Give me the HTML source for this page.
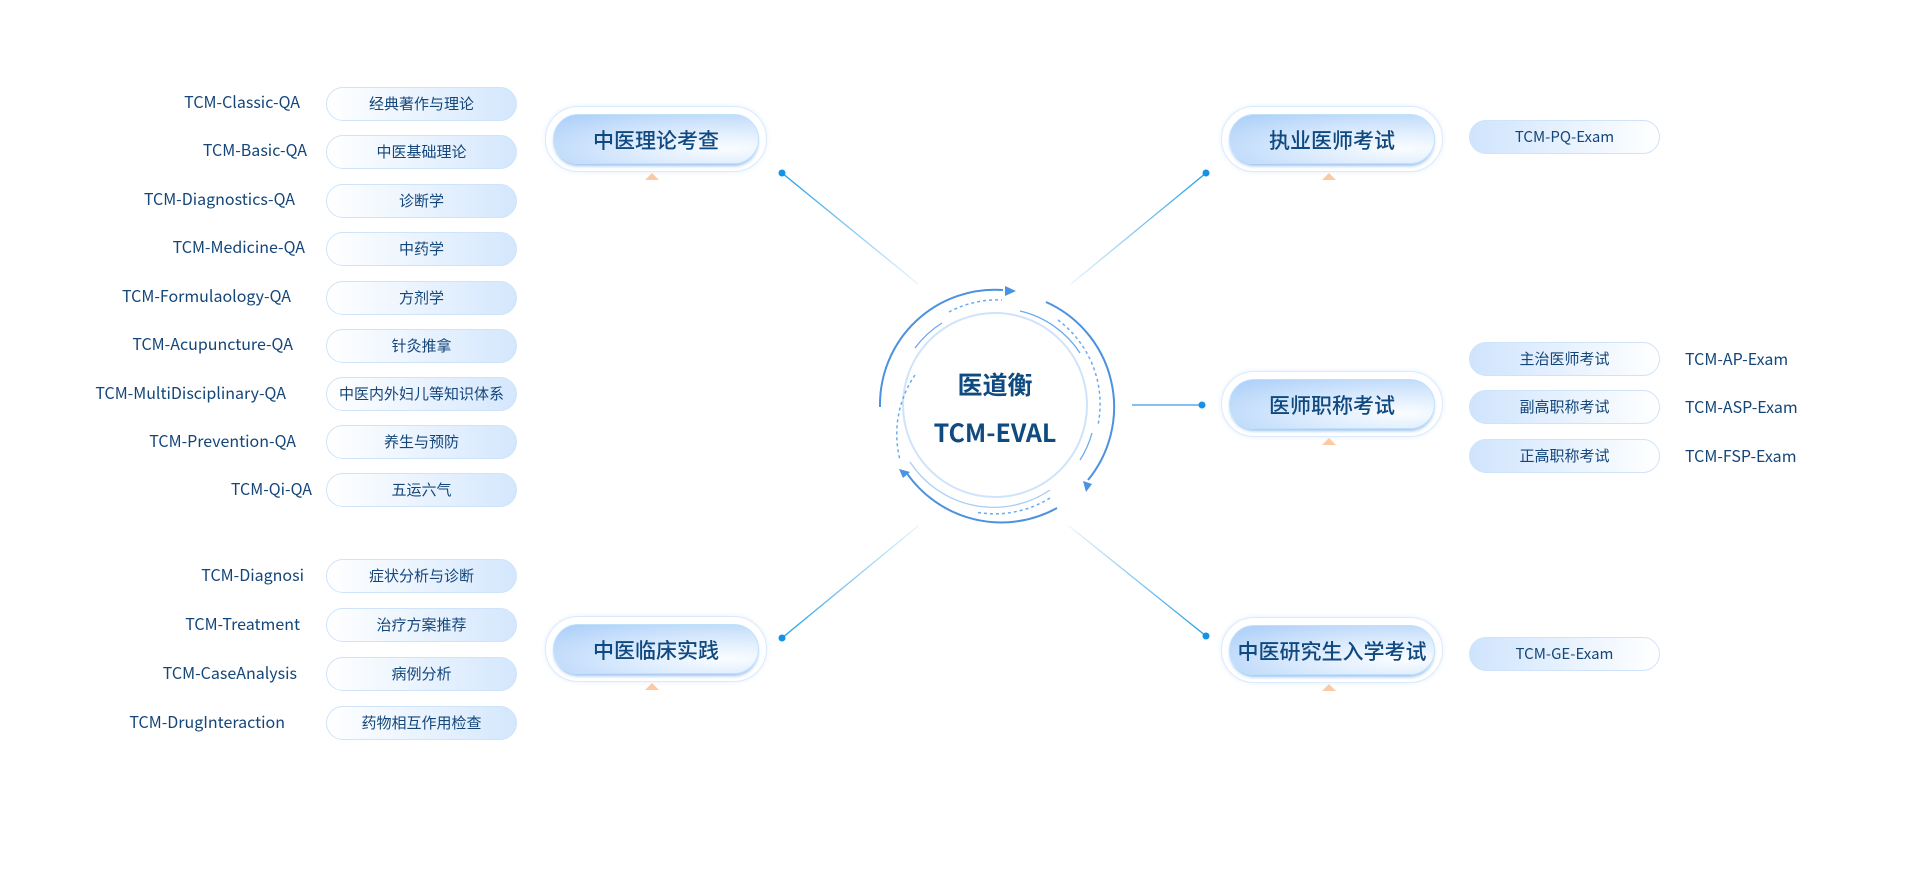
<!DOCTYPE html>
<html><head><meta charset="utf-8"><style>
*{margin:0;padding:0;box-sizing:border-box}
body{width:1919px;height:872px;background:#fff;position:relative;overflow:hidden;font-family:"Noto Sans CJK SC","Liberation Sans",sans-serif;color:#14467a}
.lab{position:absolute;font-size:16px;line-height:20px;white-space:nowrap}
.l{text-align:right;width:300px;left:0}
.pl{position:absolute;left:326px;width:191px;height:34px;border:1px solid #cfe3fb;border-radius:17px;background:linear-gradient(90deg,#fff,#d4e7fd);font-size:15px;line-height:32px;text-align:center}
.pr{position:absolute;left:1469px;width:191px;height:34px;border:1px solid #cfe3fb;border-radius:17px;background:linear-gradient(90deg,#cfe4fd,#fff);font-size:15px;line-height:32px;text-align:center}
.bn{position:absolute;width:222px;height:66px;border:1px solid #dbeafc;border-radius:33px;background:#fff;box-shadow:0 0 6px #e6f1fd}
.bn div{position:absolute;left:7px;top:7px;right:7px;bottom:7px;border-radius:26px;background:radial-gradient(ellipse at 85% 70%,#fafdff 0%,#d8e9fd 45%,#a9cdf8 100%);border:1px solid #bfe2fb;box-shadow:0 3px 3px -1px #9cc1f2;font-size:21px;font-weight:500;line-height:50px;text-align:center;color:#10497f}
.tri{position:absolute;width:0;height:0;border-left:7px solid transparent;border-right:7px solid transparent;border-bottom:7px solid #fcc9a2}
</style></head><body>
<svg width="1919" height="872" style="position:absolute;left:0;top:0">
<defs>
<linearGradient id="g1" x1="0" y1="0" x2="1" y2="1"><stop offset="0" stop-color="#1a9be8"/><stop offset="1" stop-color="#1a9be8" stop-opacity="0.1"/></linearGradient>
<linearGradient id="g2" x1="1" y1="0" x2="0" y2="1"><stop offset="0" stop-color="#1a9be8"/><stop offset="1" stop-color="#1a9be8" stop-opacity="0.1"/></linearGradient>
<linearGradient id="g3" x1="0" y1="1" x2="1" y2="0"><stop offset="0" stop-color="#1a9be8"/><stop offset="1" stop-color="#1a9be8" stop-opacity="0.1"/></linearGradient>
<linearGradient id="g4" x1="1" y1="1" x2="0" y2="0"><stop offset="0" stop-color="#1a9be8"/><stop offset="1" stop-color="#1a9be8" stop-opacity="0.1"/></linearGradient>
</defs>
<line x1="782" y1="173" x2="918" y2="284" stroke="url(#g1)" stroke-width="1.3"/>
<line x1="1206" y1="173" x2="1071" y2="284" stroke="url(#g2)" stroke-width="1.3"/>
<line x1="782" y1="638" x2="918" y2="526" stroke="url(#g3)" stroke-width="1.3"/>
<line x1="1206" y1="636" x2="1069" y2="526" stroke="url(#g4)" stroke-width="1.3"/>
<line x1="1132" y1="405" x2="1202" y2="405" stroke="#3a9ae6" stroke-width="1.2"/>
<circle cx="782" cy="173" r="3.5" fill="#1592e6"/><circle cx="1206" cy="173" r="3.5" fill="#1592e6"/>
<circle cx="782" cy="638" r="3.5" fill="#1592e6"/><circle cx="1206" cy="636" r="3.5" fill="#1592e6"/>
<circle cx="1202" cy="405" r="3.5" fill="#1592e6"/>
<g fill="none">
<circle cx="995" cy="405" r="92" stroke="#cfe3fa" stroke-width="2"/>
<path d="M880 407 A115 115 0 0 1 1003 290" stroke="#4b92e0" stroke-width="2"/>
<polygon points="1005,286 1005,296 1016,291" fill="#4b92e0"/>
<path d="M1046 302 A115 115 0 0 1 1088 480" stroke="#4b92e0" stroke-width="2"/>
<polygon points="1083,481 1092,484 1086,492" fill="#4b92e0"/>
<path d="M1057 508 A115 115 0 0 1 906 472" stroke="#4b92e0" stroke-width="2"/>
<polygon points="899,469 910,472 903,478" fill="#4b92e0"/>
<path d="M915 375 A105 105 0 0 0 900 460" stroke="#6aaaf0" stroke-width="1.5" stroke-dasharray="3 3"/>
<path d="M949 312 A103 103 0 0 1 1002 300" stroke="#6aaaf0" stroke-width="1.5" stroke-dasharray="3 3"/>
<path d="M1058 320 A105 105 0 0 1 1098 425" stroke="#6aaaf0" stroke-width="1.5" stroke-dasharray="3 3"/>
<path d="M1050 498 A105 105 0 0 1 975 512" stroke="#6aaaf0" stroke-width="1.5" stroke-dasharray="3 3"/>
<path d="M942 323 A100 100 0 0 0 915 348" stroke="#6aaaf0" stroke-width="1.3"/>
<path d="M1020 311 A98 98 0 0 1 1080 353" stroke="#6aaaf0" stroke-width="1.3"/>
<path d="M1092 433 A98 98 0 0 1 1080 460" stroke="#6aaaf0" stroke-width="1.3"/>
<path d="M910 462 A100 100 0 0 0 1050 490" stroke="#a9cdf5" stroke-width="1.3"/>
</g>
</svg>
<div class="lab" style="left:938px;top:368px;width:114px;text-align:center;font-size:25px;font-weight:bold;line-height:32px;color:#0f4a80">医道衡</div>
<div class="lab" style="left:905px;top:416px;width:180px;text-align:center;font-size:25px;font-weight:bold;line-height:32px;color:#0f4a80">TCM-EVAL</div>

<div class="lab l" style="top:91px;width:300px">TCM-Classic-QA</div><div class="pl" style="top:87px">经典著作与理论</div>
<div class="lab l" style="top:139px;width:307px">TCM-Basic-QA</div><div class="pl" style="top:135px">中医基础理论</div>
<div class="lab l" style="top:188px;width:295px">TCM-Diagnostics-QA</div><div class="pl" style="top:184px">诊断学</div>
<div class="lab l" style="top:236px;width:305px">TCM-Medicine-QA</div><div class="pl" style="top:232px">中药学</div>
<div class="lab l" style="top:285px;width:291px">TCM-Formulaology-QA</div><div class="pl" style="top:281px">方剂学</div>
<div class="lab l" style="top:333px;width:293px">TCM-Acupuncture-QA</div><div class="pl" style="top:329px">针灸推拿</div>
<div class="lab l" style="top:382px;width:286px">TCM-MultiDisciplinary-QA</div><div class="pl" style="top:377px">中医内外妇儿等知识体系</div>
<div class="lab l" style="top:430px;width:296px">TCM-Prevention-QA</div><div class="pl" style="top:425px">养生与预防</div>
<div class="lab l" style="top:478px;width:312px">TCM-Qi-QA</div><div class="pl" style="top:473px">五运六气</div>

<div class="lab l" style="top:564px;width:304px">TCM-Diagnosi</div><div class="pl" style="top:559px">症状分析与诊断</div>
<div class="lab l" style="top:613px;width:300px">TCM-Treatment</div><div class="pl" style="top:608px">治疗方案推荐</div>
<div class="lab l" style="top:662px;width:297px">TCM-CaseAnalysis</div><div class="pl" style="top:657px">病例分析</div>
<div class="lab l" style="top:711px;width:285px">TCM-DrugInteraction</div><div class="pl" style="top:706px">药物相互作用检查</div>

<div class="pr" style="top:120px">TCM-PQ-Exam</div>
<div class="pr" style="top:342px">主治医师考试</div><div class="lab" style="left:1685px;top:348px">TCM-AP-Exam</div>
<div class="pr" style="top:390px">副高职称考试</div><div class="lab" style="left:1685px;top:396px">TCM-ASP-Exam</div>
<div class="pr" style="top:439px">正高职称考试</div><div class="lab" style="left:1685px;top:445px">TCM-FSP-Exam</div>
<div class="pr" style="top:637px">TCM-GE-Exam</div>

<div class="bn" style="left:545px;top:106px"><div>中医理论考查</div></div><div class="tri" style="left:645px;top:173px"></div>
<div class="bn" style="left:545px;top:616px"><div>中医临床实践</div></div><div class="tri" style="left:645px;top:683px"></div>
<div class="bn" style="left:1221px;top:106px"><div>执业医师考试</div></div><div class="tri" style="left:1322px;top:173px"></div>
<div class="bn" style="left:1221px;top:371px"><div>医师职称考试</div></div><div class="tri" style="left:1322px;top:438px"></div>
<div class="bn" style="left:1221px;top:617px"><div>中医研究生入学考试</div></div><div class="tri" style="left:1322px;top:684px"></div>
</body></html>
